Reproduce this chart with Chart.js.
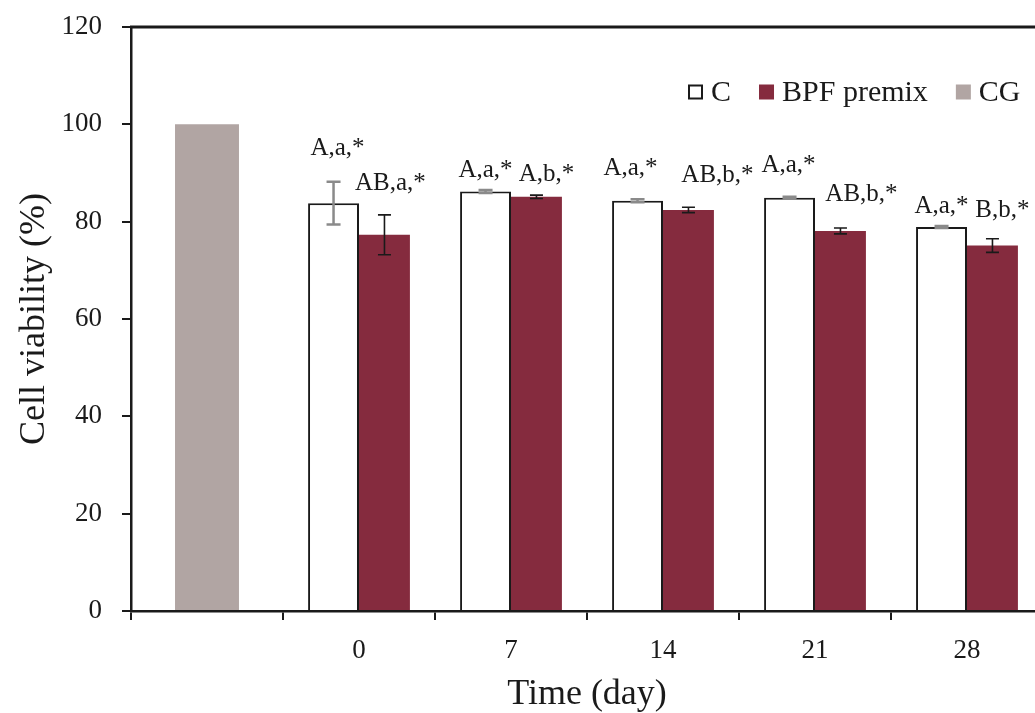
<!DOCTYPE html>
<html>
<head>
<meta charset="utf-8">
<script src="https://cdn.jsdelivr.net/npm/chart.js@4.4.1/dist/chart.umd.min.js"></script>
<style>
  html, body { margin: 0; padding: 0; background: #ffffff; overflow: hidden; }
  #wrap { width: 1045px; height: 713px; }
</style>
</head>
<body>
<div id="wrap"><canvas id="c" width="1045" height="713"></canvas></div>
<script>
// ---- data ----
const categories = ['', '0', '7', '14', '21', '28'];
const seriesNames = ['C', 'BPF premix', 'CG'];
const valuesC   = [null, 83.8, 86.2, 84.3, 84.9, 78.9];
const valuesBPF = [null, 77.3, 85.1, 82.4, 78.1, 75.1];
const valuesCG  = [100, null, null, null, null, null];
const errorsC   = [null, 4.4, 0.3, 0.3, 0.2, 0.2];
const errorsBPF = [null, 4.1, 0.35, 0.55, 0.6, 1.4];
const lettersC   = [null, 'A,a,*', 'A,a,*', 'A,a,*', 'A,a,*', 'A,a,*'];
const lettersBPF = [null, 'AB,a,*', 'A,b,*', 'AB,b,*', 'AB,b,*', 'B,b,*'];
// annotation anchors (value units) and horizontal nudges
const letterYC   = [null, 95.1, 90.6, 91.0, 91.6, 83.2];
const letterYBPF = [null, 87.9, 89.8, 89.6, 85.5, 82.4];
const letterDxC   = [0, 4, 0, -7, -1, 0];
const letterDxBPF = [0, 6, 10, 29, 21, 10];
const yTicks = [0, 20, 40, 60, 80, 100, 120];

const FONT = '"Liberation Serif", "Times New Roman", serif';
const INK = '#1a1a1a';

const errorBarPlugin = {
  id: 'errorBars',
  afterDatasetsDraw(chart) {
    const ctx = chart.ctx;
    const y = chart.scales.y;
    const sets = [
      {vals: valuesC, errs: errorsC, color: '#8a8a8a', lw: 2.5, cap: 7},
      {vals: valuesBPF, errs: errorsBPF, color: '#1a1a1a', lw: 1.6, cap: 6.5}
    ];
    sets.forEach((s, di) => {
      const meta = chart.getDatasetMeta(di);
      s.vals.forEach((v, i) => {
        if (v == null || s.errs[i] == null) return;
        const el = meta.data[i];
        const x = el.x;
        const yt = y.getPixelForValue(v + s.errs[i]);
        const yb = y.getPixelForValue(v - s.errs[i]);
        ctx.save();
        ctx.strokeStyle = s.color;
        ctx.lineWidth = s.lw;
        ctx.beginPath();
        ctx.moveTo(x, yt); ctx.lineTo(x, yb);
        ctx.moveTo(x - s.cap, yt); ctx.lineTo(x + s.cap, yt);
        ctx.moveTo(x - s.cap, yb); ctx.lineTo(x + s.cap, yb);
        ctx.stroke();
        ctx.restore();
      });
    });
  }
};

const lettersPlugin = {
  id: 'letters',
  afterDatasetsDraw(chart) {
    const ctx = chart.ctx;
    const y = chart.scales.y;
    const sets = [
      {txt: lettersC, ys: letterYC, dx: letterDxC},
      {txt: lettersBPF, ys: letterYBPF, dx: letterDxBPF}
    ];
    ctx.save();
    ctx.font = '25px ' + FONT;
    ctx.fillStyle = INK;
    ctx.textAlign = 'center';
    ctx.textBaseline = 'middle';
    sets.forEach((s, di) => {
      const meta = chart.getDatasetMeta(di);
      s.txt.forEach((t, i) => {
        if (!t) return;
        const el = meta.data[i];
        ctx.fillText(t, el.x + s.dx[i], y.getPixelForValue(s.ys[i]));
      });
    });
    ctx.restore();
  }
};

const frameTopPlugin = {
  id: 'frameTop',
  afterDraw(chart) {
    const a = chart.chartArea;
    const ctx = chart.ctx;
    ctx.save();
    ctx.strokeStyle = '#1a1a1a';
    ctx.lineWidth = 3;
    ctx.beginPath();
    ctx.moveTo(a.left - 1, a.top);
    ctx.lineTo(a.right + 2, a.top);
    ctx.stroke();
    ctx.restore();
  }
};

// legend drawn inside the plot area (top right), using the library's generated legend items
const insideLegendPlugin = {
  id: 'insideLegend',
  afterDraw(chart) {
    const ctx = chart.ctx;
    const items = Chart.defaults.plugins.legend.labels.generateLabels(chart);
    const box = 15, gapText = 8, gapItem = 28;
    let x = 688;
    const cy = 92;
    ctx.save();
    ctx.font = '30px ' + FONT;
    ctx.textBaseline = 'middle';
    ctx.textAlign = 'left';
    items.forEach(it => {
      ctx.fillStyle = it.fillStyle;
      ctx.fillRect(x, cy - box / 2, box, box);
      if (it.lineWidth) {
        ctx.strokeStyle = it.strokeStyle;
        ctx.lineWidth = it.lineWidth;
        ctx.strokeRect(x + 1, cy - box / 2 + 1, box - 2, box - 2);
      }
      ctx.fillStyle = INK;
      ctx.fillText(it.text, x + box + gapText, cy + 1);
      x += box + gapText + ctx.measureText(it.text).width + gapItem;
    });
    ctx.restore();
  }
};

new Chart(document.getElementById('c'), {
  type: 'bar',
  data: {
    labels: categories,
    datasets: [
      {
        label: seriesNames[0], data: valuesC,
        backgroundColor: '#ffffff', borderColor: '#1a1a1a', borderWidth: 2,
        skipNull: true, categoryPercentage: 0.67, barPercentage: 1.0
      },
      {
        label: seriesNames[1], data: valuesBPF,
        backgroundColor: '#852b3e', borderColor: '#852b3e', borderWidth: 0,
        skipNull: true, categoryPercentage: 0.67, barPercentage: 1.0
      },
      {
        label: seriesNames[2], data: valuesCG,
        backgroundColor: '#b1a5a3', borderColor: '#b1a5a3', borderWidth: 0,
        skipNull: true, categoryPercentage: 0.67, barPercentage: 0.628
      }
    ]
  },
  options: {
    responsive: false,
    animation: false,
    devicePixelRatio: 1,
    layout: { padding: { top: 27, right: 2, left: 0, bottom: 0 } },
    plugins: {
      tooltip: { enabled: false },
      legend: { display: false }
    },
    scales: {
      x: {
        grid: { display: true, drawOnChartArea: false, drawTicks: true, tickLength: 9, color: '#1a1a1a', lineWidth: 2, offset: true },
        border: { display: true, color: '#1a1a1a', width: 2.5 },
        ticks: { font: { family: FONT, size: 27 }, color: INK, padding: 15, maxRotation: 0, autoSkip: false },
        title: { display: true, text: 'Time (day)', font: { family: FONT, size: 36, lineHeight: 1 }, color: INK, padding: { top: 0, bottom: 0 } },
        afterFit(scale) { scale.height = 102; scale.paddingLeft = 0; scale.paddingRight = 0; }
      },
      y: {
        min: 0, max: 120,
        afterBuildTicks(scale) { scale.ticks = yTicks.map(v => ({ value: v })); },
        grid: { display: true, drawOnChartArea: false, drawTicks: true, tickLength: 9, color: '#1a1a1a', lineWidth: 2 },
        border: { display: true, color: '#1a1a1a', width: 2.5 },
        ticks: { font: { family: FONT, size: 27 }, color: INK, padding: 20 },
        title: { display: true, text: 'Cell viability (%)', font: { family: FONT, size: 36, lineHeight: 1.2 }, color: INK, padding: { top: 13, bottom: 0 } },
        afterFit(scale) { scale.width = 131; scale.paddingTop = 0; scale.paddingBottom = 0; }
      }
    }
  },
  plugins: [errorBarPlugin, lettersPlugin, frameTopPlugin, insideLegendPlugin]
});
</script>
</body>
</html>
